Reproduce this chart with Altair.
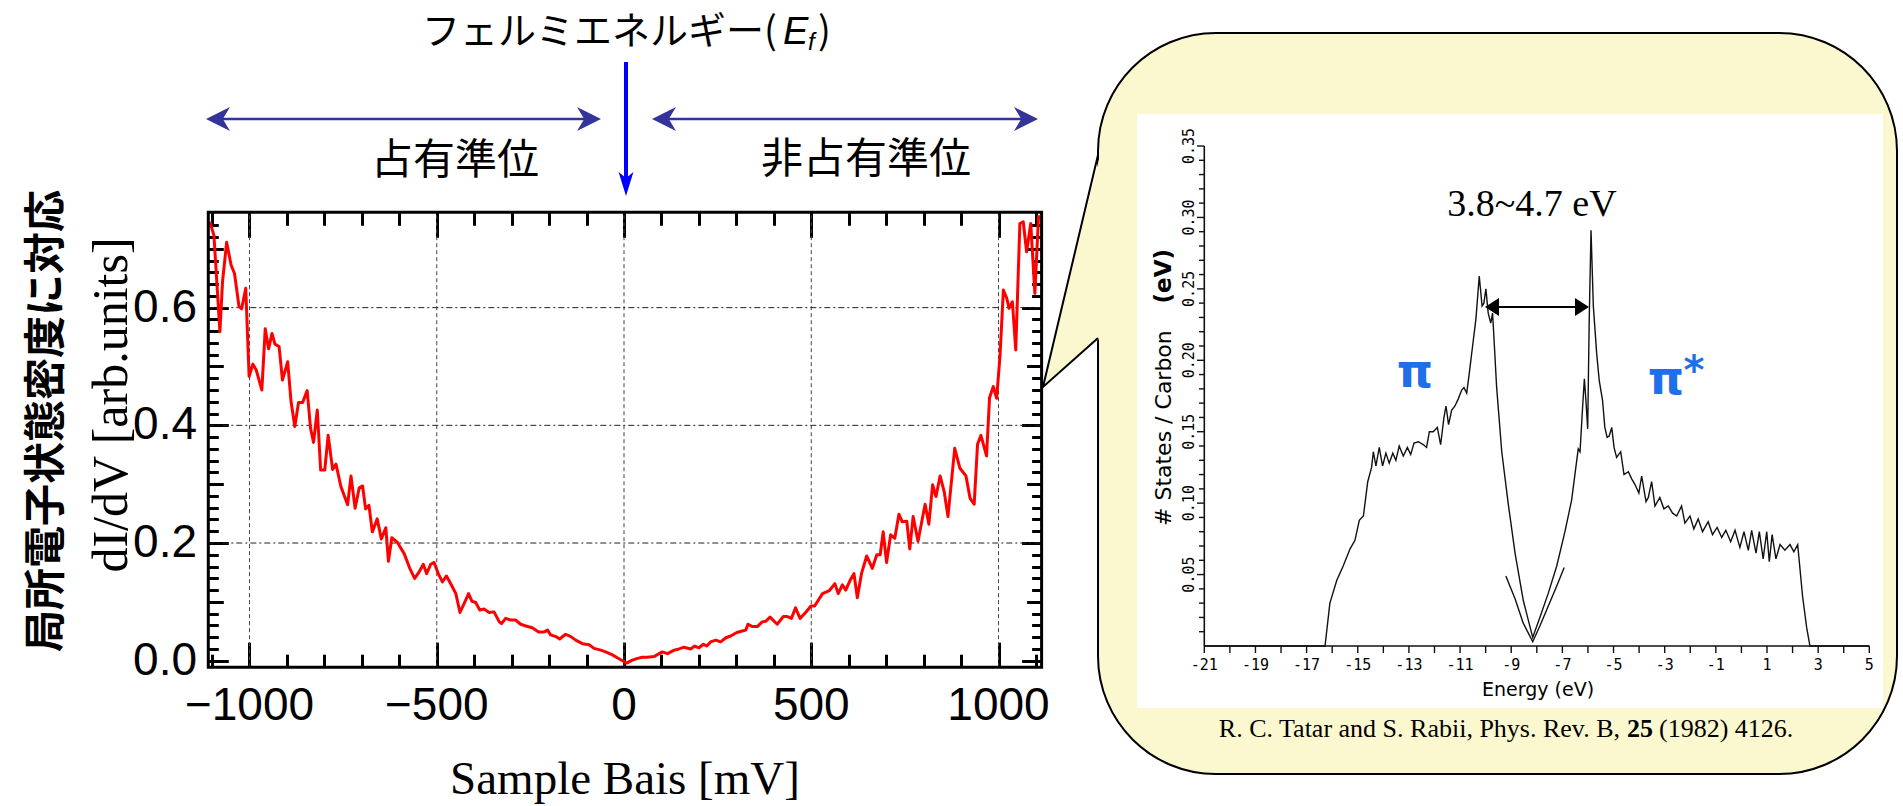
import altair as alt
import pandas as pd

# ---------------- data: STS spectrum (left panel) ----------------
bias_mv = [-1106, -1095, -1079, -1072, -1061, -1049, -1040, -1028, -1021, -1010,
           -1001, -991, -982, -967, -958, -949, -940, -932, -921, -912,
           -898, -889, -879, -869, -858, -846, -837, -829, -819, -810,
           -799, -790, -778, -769, -756, -738, -729, -718, -707, -698,
           -690, -681, -672, -659, -648, -636, -629, -620, -605, -587,
           -572, -559, -547, -536, -527, -516, -507, -496, -485, -474,
           -462, -449, -438, -427, -415, -406, -396, -385, -374, -360,
           -347, -333, -327, -316, -302, -289, -276, -262, -245, -228,
           -213, -204, -196, -182, -172, -156, -142, -129, -111, -93,
           -80, -62, -49, -31, -18, -4, 7, 22, 36, 49,
           62, 80, 102, 116, 134, 147, 160, 178, 189, 200,
           212, 221, 231, 245, 258, 272, 285, 301, 313, 325,
           331, 343, 356, 369, 378, 390, 409, 425, 436, 447,
           458, 470, 485, 499, 509, 530, 548, 563, 572, 583,
           592, 604, 614, 623, 634, 648, 663, 675, 684, 692,
           701, 712, 723, 734, 743, 755, 763, 772, 785, 804,
           814, 824, 833, 844, 855, 865, 883, 897, 913, 924,
           935, 944, 953, 968, 976, 986, 995, 1004, 1013, 1022,
           1028, 1037, 1046, 1057, 1066, 1075, 1086, 1097, 1107]
didv = [0.746, 0.723, 0.559, 0.644, 0.711, 0.672, 0.658, 0.602, 0.598, 0.633,
        0.483, 0.504, 0.494, 0.460, 0.564, 0.530, 0.556, 0.538, 0.534, 0.477,
        0.508, 0.440, 0.398, 0.439, 0.439, 0.459, 0.395, 0.371, 0.426, 0.324,
        0.324, 0.383, 0.325, 0.334, 0.296, 0.265, 0.314, 0.259, 0.294, 0.297,
        0.258, 0.264, 0.219, 0.241, 0.207, 0.226, 0.169, 0.209, 0.201, 0.182,
        0.157, 0.140, 0.151, 0.164, 0.148, 0.164, 0.167, 0.148, 0.134, 0.144,
        0.130, 0.114, 0.082, 0.097, 0.114, 0.101, 0.099, 0.086, 0.088, 0.082,
        0.083, 0.066, 0.063, 0.072, 0.069, 0.069, 0.062, 0.059, 0.056, 0.049,
        0.049, 0.052, 0.044, 0.041, 0.037, 0.045, 0.041, 0.035, 0.029, 0.027,
        0.021, 0.018, 0.015, 0.010, 0.005, 0.000, -0.004, 0.001, 0.004, 0.006,
        0.006, 0.007, 0.015, 0.012, 0.018, 0.020, 0.023, 0.020, 0.025, 0.022,
        0.028, 0.025, 0.032, 0.035, 0.032, 0.039, 0.042, 0.048, 0.050, 0.052,
        0.062, 0.058, 0.058, 0.066, 0.067, 0.074, 0.062, 0.075, 0.075, 0.072,
        0.090, 0.072, 0.082, 0.093, 0.093, 0.114, 0.119, 0.131, 0.114, 0.129,
        0.120, 0.137, 0.148, 0.107, 0.148, 0.178, 0.157, 0.180, 0.180, 0.219,
        0.167, 0.214, 0.208, 0.249, 0.236, 0.237, 0.190, 0.245, 0.203, 0.266,
        0.232, 0.299, 0.279, 0.314, 0.287, 0.245, 0.361, 0.327, 0.314, 0.276,
        0.266, 0.368, 0.383, 0.348, 0.447, 0.466, 0.446, 0.519, 0.630, 0.616,
        0.599, 0.610, 0.528, 0.743, 0.746, 0.695, 0.743, 0.624, 0.757]

# ---------------- data: graphite DOS (inset) ----------------
energy_ev = [-21, -16.28, -16.09, -15.82, -15.57, -15.30, -15.11, -14.94, -14.78, -14.61,
             -14.46, -14.39, -14.29, -14.16, -14.03, -13.90, -13.77, -13.63, -13.51, -13.38,
             -13.22, -13.06, -12.93, -12.80, -12.63, -12.44, -12.31, -12.20, -12.05, -11.89,
             -11.76, -11.63, -11.55, -11.45, -11.33, -11.20, -11.07, -10.94, -10.85, -10.74,
             -10.64, -10.51, -10.38, -10.25, -10.14, -10.07, -9.99, -9.90, -9.80, -9.73,
             -9.67, -9.57, -9.37, -9.12, -8.85, -8.53, -8.16, -7.88, -7.55, -7.22,
             -6.90, -6.64, -6.51, -6.38, -6.31, -6.21, -6.14, -6.08, -6.01, -5.95,
             -5.88, -5.79, -5.66, -5.56, -5.43, -5.34, -5.25, -5.17, -5.07, -4.98,
             -4.88, -4.72, -4.59, -4.42, -4.29, -4.16, -4.01, -3.90, -3.73, -3.64,
             -3.51, -3.38, -3.19, -3.03, -2.86, -2.69, -2.53, -2.34, -2.21, -2.01,
             -1.86, -1.69, -1.52, -1.30, -1.13, -0.95, -0.77, -0.61, -0.42, -0.25,
             -0.06, 0.10, 0.27, 0.40, 0.57, 0.70, 0.85, 0.99, 1.09, 1.20,
             1.35, 1.51, 1.70, 1.90, 2.05, 2.20, 2.39, 2.55, 2.68, 5]
states = [0, 0, 0.030, 0.046, 0.056, 0.068, 0.074, 0.088, 0.091, 0.115,
          0.125, 0.136, 0.126, 0.139, 0.126, 0.135, 0.128, 0.135, 0.130, 0.140,
          0.133, 0.139, 0.134, 0.142, 0.143, 0.141, 0.139, 0.150, 0.150, 0.153,
          0.141, 0.160, 0.168, 0.155, 0.165, 0.168, 0.173, 0.179, 0.181, 0.177,
          0.191, 0.210, 0.229, 0.259, 0.238, 0.240, 0.250, 0.233, 0.226, 0.233,
          0.214, 0.181, 0.136, 0.100, 0.065, 0.032, 0.006, 0.020, 0.037, 0.056,
          0.080, 0.102, 0.120, 0.138, 0.136, 0.167, 0.187, 0.172, 0.152, 0.229,
          0.291, 0.238, 0.205, 0.186, 0.172, 0.153, 0.146, 0.147, 0.153, 0.139,
          0.132, 0.136, 0.120, 0.122, 0.117, 0.113, 0.107, 0.119, 0.101, 0.104,
          0.115, 0.098, 0.104, 0.096, 0.098, 0.093, 0.091, 0.098, 0.086, 0.091,
          0.082, 0.089, 0.080, 0.087, 0.078, 0.083, 0.076, 0.081, 0.073, 0.081,
          0.069, 0.080, 0.067, 0.081, 0.065, 0.080, 0.061, 0.080, 0.059, 0.078,
          0.061, 0.071, 0.067, 0.071, 0.066, 0.071, 0.035, 0.013, 0, 0]
energy_ev_fit = [-9.21, -8.85, -8.53, -8.16, -7.88, -7.55, -7.22, -6.93]
states_fit = [0.049, 0.033, 0.016, 0.003, 0.014, 0.028, 0.042, 0.055]

# ---------------- ticks / labels ----------------
main_x_labels = [-1000, -500, 0, 500, 1000]
main_x_label_text = ["\u22121000", "\u2212500", "0", "500", "1000"]
main_y_labels = [0.0, 0.2, 0.4, 0.6]
main_y_label_text = ["0.0", "0.2", "0.4", "0.6"]
main_x_minor = list(range(-1100, 1101, 100))
main_y_minor = [round(0.02 * i, 2) for i in range(0, 38)]
inset_x_ticks = list(range(-21, 6))
inset_x_labels = list(range(-21, 6, 2))
inset_y_ticks = [round(0.01 * i, 2) for i in range(1, 36)]
inset_y_labels = [0.05, 0.10, 0.15, 0.20, 0.25, 0.30, 0.35]

# ---------------- fonts / colours ----------------
SERIF = "Liberation Serif, Times New Roman, serif"
NARROW = "Liberation Sans Narrow, Arial Narrow, Liberation Sans, sans-serif"
JP = "Noto Sans CJK JP, sans-serif"
SANS = "Liberation Sans, Arial, sans-serif"
MONO = "DejaVu Sans Mono, monospace"
DJ = "DejaVu Sans, sans-serif"
NAVY = "#333399"
PIBLUE = "#1F6FEB"
YELLOW = "#FBF8D0"

one = pd.DataFrame({"k": [0]})

# ---------------- scales ----------------
W, H = 1903, 806
X_DOM = [-1110, 1115]
Y_DOM = [-0.011, 0.762]
L_LEFT, L_RIGHT, L_TOP, L_BOT = 208.3, 1041.6, 212.3, 667.2
XI = alt.Scale(domain=[-21, 5], range=[1204.3, 1869.3], nice=False, zero=False)
YI = alt.Scale(domain=[0, 0.35], range=[646, 146], nice=False, zero=False)
CX = alt.Scale(domain=[0, 1903], range=[0, 1903], nice=False, zero=False)
CY = alt.Scale(domain=[0, 806], range=[0, 806], nice=False, zero=False)


def XS():
    return alt.Scale(domain=X_DOM, range=[L_LEFT, L_RIGHT], nice=False, zero=False)


def YS():
    return alt.Scale(domain=Y_DOM, range=[L_BOT, L_TOP], nice=False, zero=False)


PX_X = (L_RIGHT - L_LEFT) / (X_DOM[1] - X_DOM[0])   # px per mV
PX_Y = (L_BOT - L_TOP) / (Y_DOM[1] - Y_DOM[0])      # px per unit


def txt(text, x, y, size, font, color="black", weight="normal", style="normal",
        angle=0, align="center", baseline="middle"):
    return alt.Chart(one).mark_text(
        text=text, fontSize=size, font=font, color=color, fontWeight=weight,
        fontStyle=style, angle=angle, align=align, baseline=baseline
    ).encode(x=alt.value(x), y=alt.value(y))


def seg(x1, y1, x2, y2, color, width):
    return alt.Chart(one).mark_rule(color=color, strokeWidth=width, strokeCap="butt").encode(
        x=alt.value(x1), y=alt.value(y1), x2=alt.value(x2), y2=alt.value(y2))


STEALTH = "M0,0 L-2,-1 L-1.4,0 L-2,1 Z"
STEALTH_N = "M0,0 L-2,-0.62 L-1.5,0 L-2,0.62 Z"
TRI = "M0,0 L-2,-1.3 L-2,1.3 Z"


def head(x, y, angle, size, color, shape):
    return alt.Chart(one).mark_point(
        shape=shape, filled=True, size=size, angle=angle, color=color,
        opacity=1, strokeWidth=0
    ).encode(x=alt.value(x), y=alt.value(y))


# ---------------- left panel ----------------
grid_v = alt.Chart(pd.DataFrame({"v": main_x_labels, "a": Y_DOM[0], "b": Y_DOM[1]})).mark_rule(
    color="#444444", strokeWidth=1, strokeDash=[4, 3]).encode(
    x=alt.X("v:Q", scale=XS(), axis=None), y=alt.Y("a:Q", scale=YS(), axis=None), y2="b:Q")
grid_h = alt.Chart(pd.DataFrame({"v": [0.2, 0.4, 0.6], "a": X_DOM[0], "b": X_DOM[1]})).mark_rule(
    color="#222222", strokeWidth=1, strokeDash=[6, 3, 2, 3]).encode(
    y=alt.Y("v:Q", scale=YS(), axis=None), x=alt.X("a:Q", scale=XS(), axis=None), x2="b:Q")

frame = alt.Chart(one).mark_rect(fillOpacity=0, stroke="black", strokeWidth=3).encode(
    x=alt.value(L_LEFT), x2=alt.value(L_RIGHT), y=alt.value(L_TOP), y2=alt.value(L_BOT))

curve = alt.Chart(pd.DataFrame({"x": bias_mv, "y": didv})).mark_line(
    color="#FF0000", strokeWidth=3, strokeJoin="round").encode(
    x=alt.X("x:Q", scale=XS(), axis=None), y=alt.Y("y:Q", scale=YS(), axis=None))

ylab = alt.Chart(pd.DataFrame({"v": main_y_labels, "t": main_y_label_text})).mark_text(
    align="right", baseline="middle", fontSize=46, font=NARROW).encode(
    y=alt.Y("v:Q", scale=YS(), axis=None), x=alt.value(197), text="t:N")
xlab = alt.Chart(pd.DataFrame({"v": main_x_labels, "t": main_x_label_text})).mark_text(
    align="center", baseline="middle", fontSize=46, font=NARROW).encode(
    x=alt.X("v:Q", scale=XS(), axis=None), y=alt.value(706), text="t:N")

left_group = alt.layer(grid_v, grid_h, curve, frame, ylab, xlab)

# ---------------- inward frame ticks via real axes moved onto the frame ----------------
x_long = main_x_labels
x_short = [v for v in main_x_minor if v not in main_x_labels]
y_long = [v for v in main_y_minor if round(v * 50) % 10 == 0]
y_mid = [v for v in main_y_minor if round(v * 50) % 10 == 5]
y_short = [v for v in main_y_minor if round(v * 50) % 5 != 0]


def tick_axis(channel, orient, offset, values, size):
    ax = alt.Axis(orient=orient, offset=offset, values=values, tickSize=size, tickWidth=3,
                  tickColor="#000000", ticks=True, labels=False, domain=False, grid=False,
                  title=None)
    if channel == "x":
        enc = {"x": alt.X("k:Q", scale=XS(), axis=ax)}
    else:
        enc = {"y": alt.Y("k:Q", scale=YS(), axis=ax)}
    return alt.Chart(one).mark_point(opacity=0, size=1).encode(**enc)


axis_layers = [
    # top frame: bottom-oriented axis lifted to the top edge, ticks point down (inward)
    tick_axis("x", "bottom", L_TOP - H, x_long, 25),
    tick_axis("x", "bottom", L_TOP - H, x_short, 13),
    # bottom frame: top-oriented axis lowered to the bottom edge, ticks point up
    tick_axis("x", "top", -L_BOT, x_long, 25),
    tick_axis("x", "top", -L_BOT, x_short, 13),
    # left frame: right-oriented axis moved to the left edge, ticks point right
    tick_axis("y", "right", L_LEFT - W, y_long, 20),
    tick_axis("y", "right", L_LEFT - W, y_mid, 15),
    tick_axis("y", "right", L_LEFT - W, y_short, 10),
    # right frame: left-oriented axis moved to the right edge, ticks point left
    tick_axis("y", "left", -L_RIGHT, y_long, 20),
    tick_axis("y", "left", -L_RIGHT, y_mid, 15),
    tick_axis("y", "left", -L_RIGHT, y_short, 10),
]

# ---------------- callout background ----------------
tail = pd.DataFrame({"x": [1043, 1100], "y": [387, 155], "y2": [387, 338]})
tail_edge = pd.DataFrame({"x": [1098, 1043, 1098], "y": [155, 387, 338], "o": [0, 1, 2]})

bubble = alt.Chart(one).mark_rect(
    fill=YELLOW, stroke="black", strokeWidth=2, cornerRadius=118).encode(
    x=alt.value(1098), x2=alt.value(1897), y=alt.value(33), y2=alt.value(774))
tail_fill = alt.Chart(tail).mark_area(fill=YELLOW, opacity=1).encode(
    x=alt.X("x:Q", scale=CX, axis=None), y=alt.Y("y:Q", scale=CY, axis=None), y2="y2:Q")
tail_line = alt.Chart(tail_edge).mark_line(color="black", strokeWidth=2).encode(
    x=alt.X("x:Q", scale=CX, axis=None), y=alt.Y("y:Q", scale=CY, axis=None), order="o:Q")
white_box = alt.Chart(one).mark_rect(fill="white").encode(
    x=alt.value(1137), x2=alt.value(1883), y=alt.value(114), y2=alt.value(708))

bg_group = alt.layer(bubble, tail_fill, tail_line, white_box)

# ---------------- inset ----------------
dos_main = alt.Chart(pd.DataFrame({"e": energy_ev, "s": states})).mark_line(
    color="#111111", strokeWidth=1.4).encode(
    x=alt.X("e:Q", scale=XI, axis=None), y=alt.Y("s:Q", scale=YI, axis=None))
dos_fit = alt.Chart(pd.DataFrame({"e": energy_ev_fit, "s": states_fit})).mark_line(
    color="#111111", strokeWidth=1.4).encode(
    x=alt.X("e:Q", scale=XI, axis=None), y=alt.Y("s:Q", scale=YI, axis=None))

ix_ticks = alt.Chart(pd.DataFrame({"v": inset_x_ticks})).mark_rule(color="#111", strokeWidth=1.4).encode(
    x=alt.X("v:Q", scale=XI, axis=None), y=alt.value(646), y2=alt.value(653))
iy_minor = [v for v in inset_y_ticks if v not in inset_y_labels]
iy_ticks_minor = alt.Chart(pd.DataFrame({"v": iy_minor})).mark_rule(color="#111", strokeWidth=1.4).encode(
    y=alt.Y("v:Q", scale=YI, axis=None), x=alt.value(1199), x2=alt.value(1204.3))
iy_ticks_major = alt.Chart(pd.DataFrame({"v": inset_y_labels})).mark_rule(color="#111", strokeWidth=1.4).encode(
    y=alt.Y("v:Q", scale=YI, axis=None), x=alt.value(1197), x2=alt.value(1204.3))
ix_axis = seg(1204.3, 646, 1869.3, 646, "#111", 1.6)
iy_axis = seg(1204.3, 146, 1204.3, 646, "#111", 1.6)

ix_lab = alt.Chart(pd.DataFrame({"v": inset_x_labels, "t": [str(v) for v in inset_x_labels]})).mark_text(
    fontSize=15, font=MONO, baseline="middle", align="center").encode(
    x=alt.X("v:Q", scale=XI, axis=None), y=alt.value(665), text="t:N")
iy_lab = alt.Chart(pd.DataFrame({"v": inset_y_labels, "t": ["%.2f" % v for v in inset_y_labels]})).mark_text(
    fontSize=15, font=MONO, baseline="middle", align="center", angle=270).encode(
    y=alt.Y("v:Q", scale=YI, axis=None), x=alt.value(1189), text="t:N")

inset_group = alt.layer(dos_main, dos_fit, ix_ticks, iy_ticks_minor, iy_ticks_major,
                        ix_axis, iy_axis, ix_lab, iy_lab)

# ---------------- annotations ----------------
fg_group = alt.layer(
    # left panel titles
    txt("局所電子状態密度に対応", 47, 421, 42, JP, weight="bold", angle=270),
    txt("dI/dV [arb.units]", 112, 405, 50, SERIF, angle=270),
    txt("Sample Bais [mV]", 625, 780, 47, SERIF),
    # Fermi level label
    txt("フェルミエネルギー(", 422, 33, 38, JP, align="left"),
    txt("E", 783, 33, 38, SANS, style="italic", align="left"),
    txt("f", 808, 43, 24, SANS, style="italic", align="left"),
    txt(")", 818, 33, 38, JP, align="left"),
    # Fermi arrow
    seg(626, 62, 626, 180, "#0000FF", 4),
    head(626, 196, 90, 576, "#0000FF", STEALTH_N),
    # occupied / unoccupied arrows
    seg(214, 119, 593, 119, NAVY, 2.5),
    head(206, 119, 180, 576, NAVY, STEALTH),
    head(601, 119, 0, 576, NAVY, STEALTH),
    seg(660, 119, 1030, 119, NAVY, 2.5),
    head(652, 119, 180, 576, NAVY, STEALTH),
    head(1038, 119, 0, 576, NAVY, STEALTH),
    txt("占有準位", 455, 161, 42, JP),
    txt("非占有準位", 866, 160, 42, JP),
    # inset annotations
    txt("# States / Carbon ", 1164, 526, 22, DJ, angle=270, align="left"),
    txt("(eV)", 1164, 249, 23, DJ, weight="bold", angle=270, align="right"),
    txt("Energy (eV)", 1538, 690, 19, DJ),
    txt("3.8~4.7 eV", 1532, 205, 38, SERIF),
    seg(1492, 307, 1582, 307, "black", 2),
    head(1485, 307, 180, 196, "black", TRI),
    head(1589, 307, 0, 196, "black", TRI),
    txt("π", 1415, 373, 46, DJ, color=PIBLUE, weight="bold"),
    txt("π", 1666, 380, 46, DJ, color=PIBLUE, weight="bold"),
    txt("*", 1694, 372, 40, DJ, color=PIBLUE, weight="bold"),
    # citation
    txt("R. C. Tatar and S. Rabii, Phys. Rev. B,", 1620, 729, 26, SERIF, align="right"),
    txt("25", 1640, 729, 26, SERIF, weight="bold"),
    txt("(1982) 4126.", 1659, 729, 26, SERIF, align="left"),
)

chart = alt.layer(bg_group, left_group, *axis_layers, inset_group, fg_group).resolve_scale(
    x="independent", y="independent"
).properties(
    width=W, height=H, padding=0, autosize=alt.AutoSizeParams(type="none"),
    background="white"
).configure_view(strokeWidth=0)

chart.save("out.html", embed_options={"renderer": "svg", "actions": False})
